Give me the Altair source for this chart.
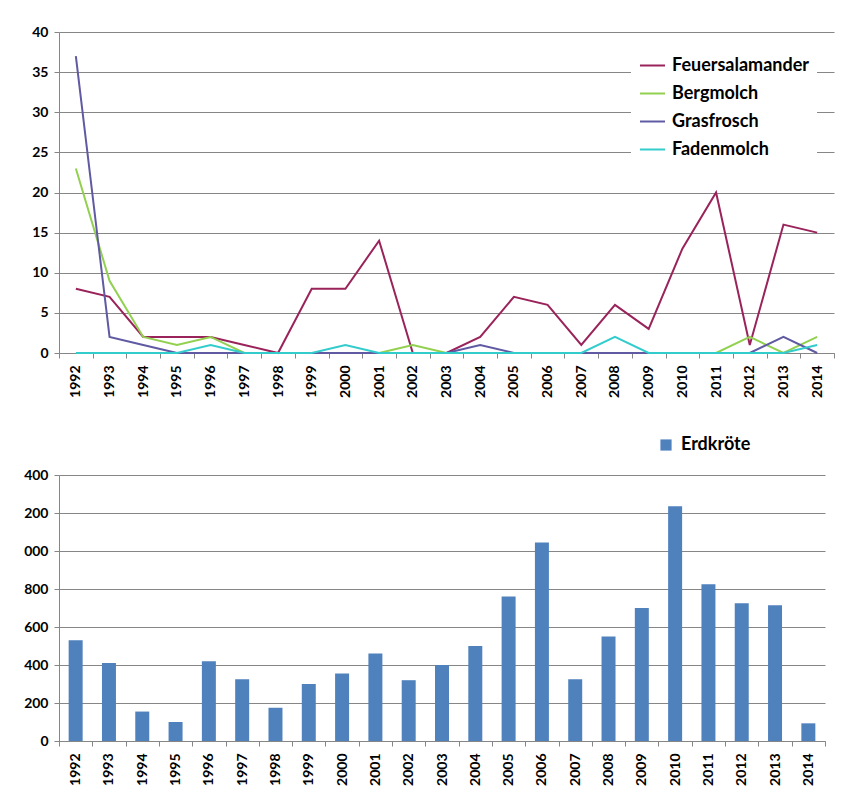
import altair as alt
import pandas as pd

years = [str(y) for y in range(1992, 2015)]
arten = ["Feuersalamander", "Bergmolch", "Grasfrosch", "Fadenmolch"]
farben = ["#99235A", "#92D050", "#5F5AA2", "#33CCCC"]

feuersalamander = [8, 7, 2, 2, 2, 1, 0, 8, 8, 14, 0, 0, 2, 7, 6, 1, 6, 3, 13, 20, 1, 16, 15]
bergmolch = [23, 9, 2, 1, 2, 0, 0, 0, 0, 0, 1, 0, 0, 0, 0, 0, 0, 0, 0, 0, 2, 0, 2]
grasfrosch = [37, 2, 1, 0, 0, 0, 0, 0, 0, 0, 0, 0, 1, 0, 0, 0, 0, 0, 0, 0, 0, 2, 0]
fadenmolch = [0, 0, 0, 0, 1, 0, 0, 0, 1, 0, 0, 0, 0, 0, 0, 0, 2, 0, 0, 0, 0, 0, 1]

erdkroete = [530, 410, 155, 100, 420, 325, 175, 300, 355, 460, 320, 400, 500,
             760, 1045, 325, 550, 700, 1235, 825, 725, 715, 93]

top_ticks = list(range(0, 41, 5))
bottom_ticks = list(range(0, 1401, 200))

rows = []
for art, vals in zip(arten, [feuersalamander, bergmolch, grasfrosch, fadenmolch]):
    for j, v in zip(years, vals):
        rows.append({"Jahr": j, "Anzahl": v, "Art": art})
df_top = pd.DataFrame(rows)
df_bot = pd.DataFrame({"Jahr": years, "Anzahl": erdkroete, "Art": "Erdkröte"})

FONT = "Lato"
GRAY = "#868686"

x_axis = alt.Axis(title=None, labelAngle=-90, tickBand="extent", grid=False,
                  labelFontSize=14, labelFont=FONT, labelFontWeight="bold",
                  labelColor="black", labelPadding=7, tickSize=5,
                  domainColor=GRAY, tickColor=GRAY)

top = alt.Chart(df_top).mark_line(strokeWidth=2).encode(
    x=alt.X("Jahr:N", sort=years, bandPosition=0.5,
            scale=alt.Scale(type="band", paddingInner=0, paddingOuter=0),
            axis=x_axis),
    y=alt.Y("Anzahl:Q", scale=alt.Scale(domain=[0, 40], nice=False),
            axis=alt.Axis(title=None, values=top_ticks, grid=True, gridColor=GRAY,
                          domainColor=GRAY, tickColor=GRAY, tickSize=5,
                          labelFontSize=14, labelFont=FONT, labelFontWeight="bold",
                          labelColor="black", labelPadding=6)),
    color=alt.Color("Art:N", scale=alt.Scale(domain=arten, range=farben),
                    legend=alt.Legend(title=None, orient="none", legendX=572, legendY=12,
                                      fillColor="white", padding=8,
                                      symbolType="stroke", symbolSize=625,
                                      symbolStrokeWidth=2, labelFontSize=18,
                                      labelFont=FONT, labelFontWeight="bold",
                                      labelColor="black", rowPadding=5,
                                      labelOffset=6)),
    order=alt.Order("ord:Q"),
).transform_calculate(
    ord="indexof(['Feuersalamander','Bergmolch','Grasfrosch','Fadenmolch'], datum.Art)"
).properties(width=775, height=321)

bottom = alt.Chart(df_bot).mark_bar(width=alt.RelativeBandSize(0.42)).encode(
    x=alt.X("Jahr:N", sort=years,
            scale=alt.Scale(type="band", paddingInner=0, paddingOuter=0),
            axis=x_axis),
    y=alt.Y("Anzahl:Q", scale=alt.Scale(domain=[0, 1400], nice=False),
            axis=alt.Axis(title=None, values=bottom_ticks, grid=True, gridColor=GRAY,
                          domainColor=GRAY, tickColor=GRAY, tickSize=5,
                          labelFontSize=14, labelFont=FONT, labelFontWeight="bold",
                          labelColor="black", labelPadding=6,
                          labelExpr="datum.value >= 1000 ? substring(toString(datum.value), 1) : datum.label")),
    color=alt.Color("Art:N", scale=alt.Scale(domain=["Erdkröte"], range=["#4F81BD"]),
                    legend=alt.Legend(title=None, orient="none", legendX=598, legendY=-39,
                                      symbolType="square", symbolSize=125,
                                      labelFontSize=18, labelFont=FONT,
                                      labelFontWeight="bold", labelColor="black",
                                      labelOffset=6)),
).properties(width=766, height=266)

chart = alt.vconcat(top, bottom, spacing=38).resolve_scale(
    color="independent", x="independent", y="independent"
).resolve_legend(color="independent").properties(
    padding={"left": 15, "top": 17, "right": 5, "bottom": 5}
).configure_view(stroke=None)

chart.save("out.html", embed_options={"renderer": "svg", "actions": False})
